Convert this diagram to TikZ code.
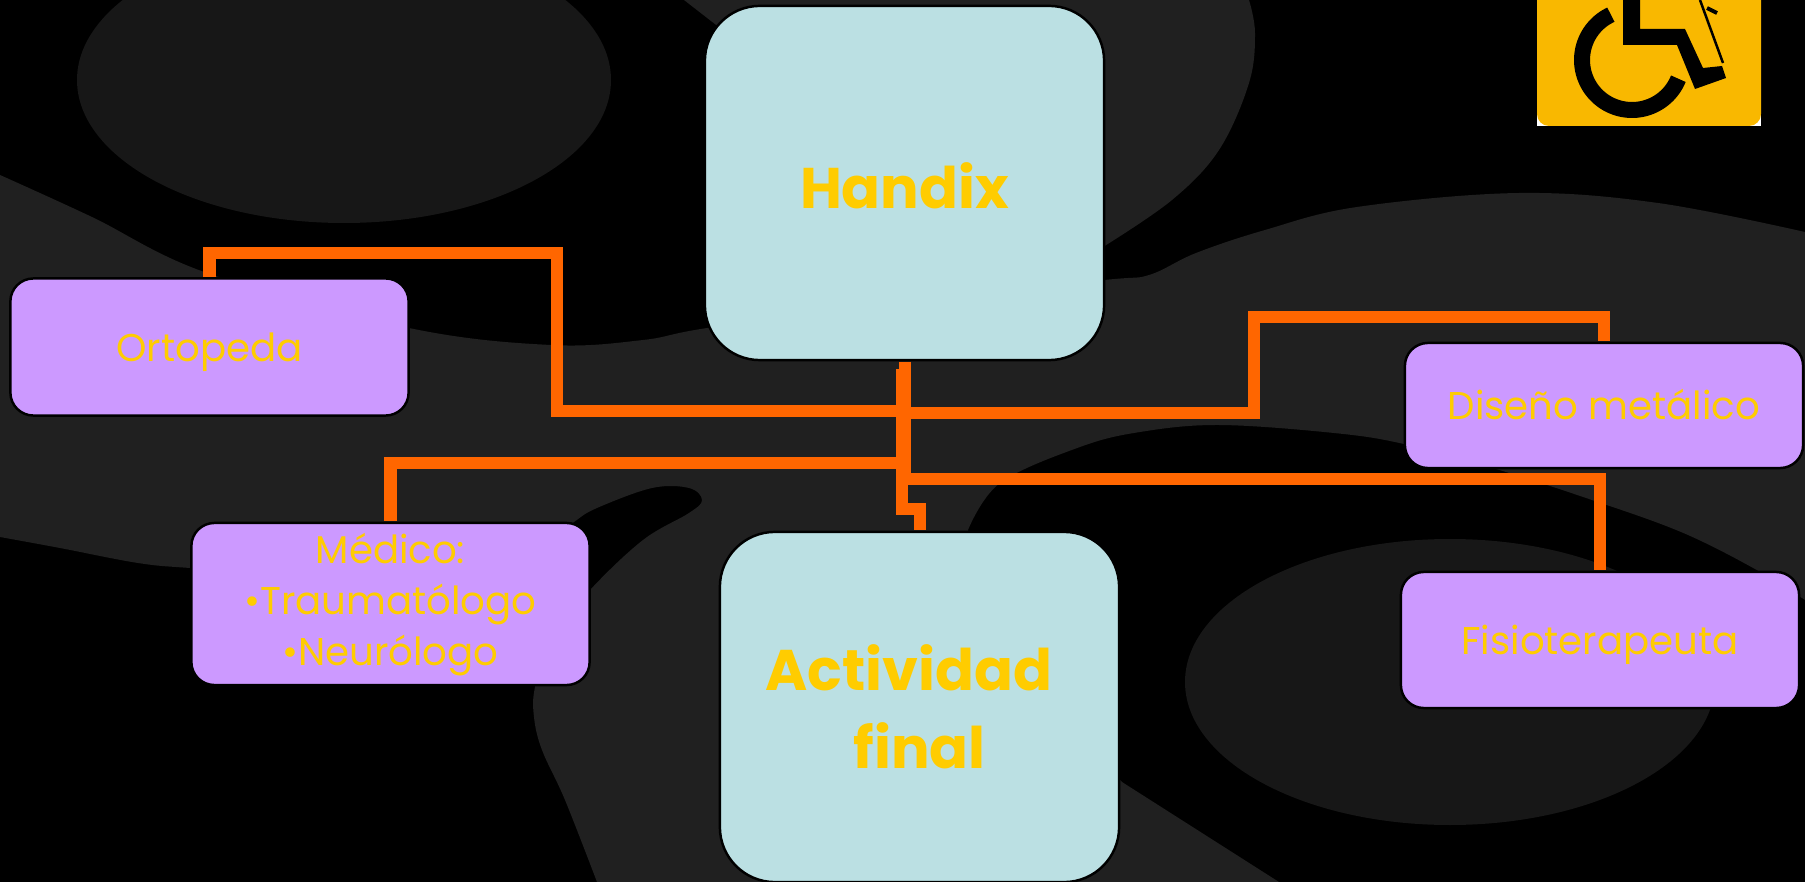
\documentclass[tikz,border=0pt]{standalone}
\usepackage{fontspec}
\setmainfont{Poppins}
\usetikzlibrary{positioning}
\definecolor{fondogris}{HTML}{202020}
\definecolor{ovalogris}{HTML}{171717}
\definecolor{cajaazul}{HTML}{BBE0E3}
\definecolor{cajalila}{HTML}{CC99FF}
\definecolor{textoamar}{HTML}{FFCC00}
\definecolor{linea}{HTML}{FF6600}
\definecolor{iconoamar}{HTML}{F9B800}
\tikzset{
  cajagrande/.style={draw=black,fill=cajaazul,line width=0.7pt,rounded corners=0.55cm,outer sep=0pt,inner sep=0pt,
    minimum width=3.99cm,text=textoamar,font=\fontsize{16.3}{22.2}\selectfont\bfseries,align=center},
  cajita/.style={draw=black,fill=cajalila,line width=0.7pt,rounded corners=0.23cm,outer sep=0pt,inner sep=0pt,
    minimum width=3.98cm,text=textoamar,font=\fontsize{11}{14.5}\selectfont,align=center},
  unalinea/.style={text height=8.2pt,text depth=0pt},
  treslineas/.style={text height=35pt,text depth=0pt},
  cable/.style={draw=linea,line width=0.12cm,shorten <=0.5pt,shorten >=0.5pt}
}
\begin{document}
\begin{tikzpicture}[x=0.01cm,y=-0.01cm]
  \useasboundingbox (0,0) rectangle (1805,882);
  \fill[black] (0,0) rectangle (1805,882);

  % Manchas del fondo
  \fill[ovalogris] (344,80) ellipse [x radius=267,y radius=143];
  \fill[fondogris] (684,0) -- (720,28) -- (800,300) -- (1000,300) -- plot[smooth,tension=0.6] coordinates {(1103,247) (1172,200) (1219,150) (1249,83) (1255,33) (1249,0)} -- cycle;
  \fill[fondogris] plot[smooth,tension=0.6] coordinates {(0,175) (92,217) (207,273) (409,328) (551,345) (643,340) (707,328) (900,300) (1104,280) (1149,275) (1196,253) (1265,230) (1357,207) (1519,193) (1658,203) (1805,232)}
    -- (1805,600)
    -- plot[smooth,tension=0.6] coordinates {(1805,600) (1755,569) (1681,532) (1589,499) (1496,469) (1404,444) (1334,433) (1219,425) (1140,432) (1080,447) (1000,483) (968,530)}
    -- (1000,650) -- (1122,782) -- (1279,882)
    -- plot[smooth,tension=0.6] coordinates {(597,882) (565,800) (542,750) (534,717) (535,687) (550,640) (590,590) (643,540) (689,513) (702,500) (689,488) (652,488) (597,508) (574,522) (545,545) (480,575) (420,580) (300,575) (190,568) (138,563) (60,548) (0,537)}
    -- cycle;
  \fill[ovalogris] (1450,682) ellipse [x radius=265,y radius=143];

  % Icono
  \fill[white] (1537,105) rectangle (1761,126);
  \fill[iconoamar,rounded corners=0.12cm] (1537,-30) rectangle (1761,126);
  \draw[black,line width=0.16cm] plot[smooth,domain=115:338,samples=40] ({1632+50*cos(\x)},{60-50*sin(\x)});
  \fill[black] (1623,0) -- (1640,0) -- (1640,29) -- (1685,29) -- (1703,68) -- (1722,66) -- (1726,78) -- (1695,89) -- (1677,45) -- (1623,45) -- cycle;
  \draw[black,line width=0.025cm] (1700,0) -- (1723,63);
  \draw[black,line width=0.04cm] (1707,8) -- (1717,13);

  % Cajas
  \node[cajagrande,minimum height=3.54cm,text height=14.6pt,text depth=0pt] (handix) at (904.5,183) {Handix};
  \node[cajagrande,minimum height=3.50cm,treslineas] (actividad) at (919.5,707) {Actividad\kern6.2pt\\final};
  \node[cajita,minimum height=1.37cm,unalinea] (ortopeda) at (209.5,347) {Ortopeda};
  \node[cajita,minimum height=1.62cm,treslineas] (medico) at (390.5,604) {Médico:\\•Traumatólogo\\•Neurólogo};
  \node[cajita,minimum height=1.25cm,unalinea] (diseno) at (1604,405.5) {Diseño metálico};
  \node[cajita,minimum height=1.36cm,unalinea] (fisio) at (1600,640) {Fisioterapeuta};

  % Conexiones
  \coordinate (tronco) at (902,367);
  \draw[cable] (tronco) |- (557,411) |- (209.5,253) -- (ortopeda.north);
  \draw[cable] (tronco) |- (390.5,463) -- (medico.north);
  \draw[cable] (tronco) |- (919.5,509) -- (actividad.north);
  \draw[cable] (handix.south) |- (1254,413) |- (1604,317) -- (diseno.north);
  \draw[cable] (handix.south) |- (1600,479) -- (fisio.north);
\end{tikzpicture}
\end{document}
